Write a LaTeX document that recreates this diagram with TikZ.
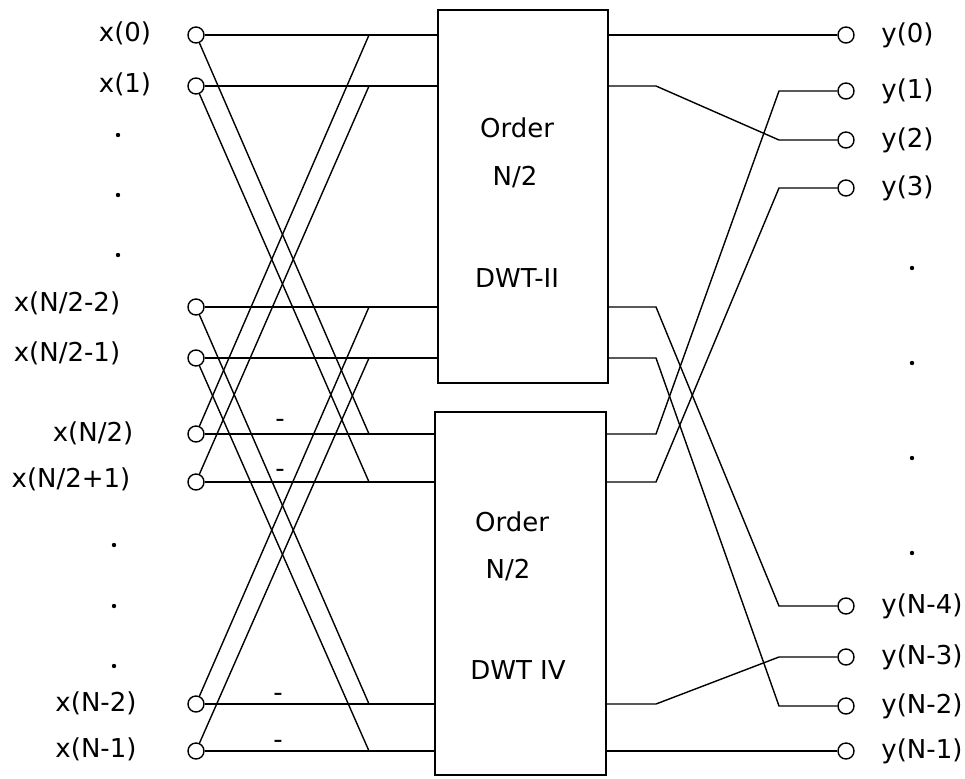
\documentclass[tikz,border=0pt]{standalone}
\usepackage{fontspec}
\setmainfont{DejaVu Sans}
\usetikzlibrary{positioning,fit,calc}

\begin{document}
\begin{tikzpicture}[
  x=0.5pt, y=-0.5pt,
  font=\fontsize{13}{15}\selectfont,
  line width=0.7pt,
  port/.style={draw, circle, fill=white, inner sep=0pt, minimum size=8pt},
  block/.style={draw, inner sep=0pt},
  lbl/.style={inner sep=0pt},
  dotm/.style={fill, circle, inner sep=0pt, minimum size=2.2pt}
]
  \useasboundingbox (0,0) rectangle (965,778);

  % Two half-size blocks
  \node[block, fit={(438,10) (608,383)}] (b1) {};
  \node[block, fit={(435,412) (606,775)}] (b2) {};
  \node[lbl] (b1-a) at (517,128) {Order};
  \node[lbl] (b1-b) at (515,177) {N/2};
  \node[lbl] (b1-c) at (517,278) {DWT-II};
  \node[lbl] (b2-a) at (512,522) {Order};
  \node[lbl] (b2-b) at (508,570) {N/2};
  \node[lbl] (b2-c) at (518,670) {DWT IV};

  % Inputs
  \node[port] (x0) at (196,35) {};
  \node[port] (x1) at (196,86) {};
  \node[port] (x2) at (196,307) {};
  \node[port] (x3) at (196,358) {};
  \node[port] (x4) at (196,434) {};
  \node[port] (x5) at (196,482) {};
  \node[port] (x6) at (196,704) {};
  \node[port] (x7) at (196,751) {};
  \node[lbl] (lx0) at (125,33) {x(0)};
  \node[lbl] (lx1) at (125,84) {x(1)};
  \node[lbl] (lx2) at (67,303) {x(N/2-2)};
  \node[lbl] (lx3) at (67,353) {x(N/2-1)};
  \node[lbl] (lx4) at (93,433) {x(N/2)};
  \node[lbl] (lx5) at (71,479) {x(N/2+1)};
  \node[lbl] (lx6) at (96,703) {x(N-2)};
  \node[lbl] (lx7) at (96,749) {x(N-1)};

  % Outputs
  \node[port] (y0) at (846,35) {};
  \node[port] (y1) at (846,91) {};
  \node[port] (y2) at (846,140) {};
  \node[port] (y3) at (846,188) {};
  \node[port] (y4) at (846,606) {};
  \node[port] (y5) at (846,657) {};
  \node[port] (y6) at (846,706) {};
  \node[port] (y7) at (846,751) {};
  \node[lbl, right=13pt of y0] (ly0) {y(0)};
  \node[lbl, right=13pt of y1] (ly1) {y(1)};
  \node[lbl, right=13pt of y2] (ly2) {y(2)};
  \node[lbl, right=13pt of y3] (ly3) {y(3)};
  \node[lbl, right=13pt of y4] (ly4) {y(N-4)};
  \node[lbl, right=13pt of y5] (ly5) {y(N-3)};
  \node[lbl, right=13pt of y6] (ly6) {y(N-2)};
  \node[lbl, right=13pt of y7] (ly7) {y(N-1)};

  % Ellipsis dots
  \foreach \y in {135,195,255} \node[dotm] (dl\y) at (118,\y) {};
  \foreach \y in {545,606,666} \node[dotm] (dm\y) at (114,\y) {};
  \foreach \y in {268,363,458,553} \node[dotm] (dr\y) at (912,\y) {};

  % Where the wires bend
  \coordinate (jl) at (369,0);
  \coordinate (jm) at (656,0);
  \coordinate (jr) at (779,0);

  % Straight inputs
  \foreach \i in {0,...,3} \draw (x\i) -- (x\i -| b1.west);
  \foreach \i in {4,...,7} \draw (x\i) -- (x\i -| b2.west);

  % Butterflies
  \draw (x0) -- (x4 -| jl);
  \draw (x1) -- (x5 -| jl);
  \draw (x2) -- (x6 -| jl);
  \draw (x3) -- (x7 -| jl);
  \draw (x4) -- (x0 -| jl);
  \draw (x5) -- (x1 -| jl);
  \draw (x6) -- (x2 -| jl);
  \draw (x7) -- (x3 -| jl);

  % Sign flips
  \node[lbl] (m4) at (280,423) {-};
  \node[lbl] (m5) at (280,473) {-};
  \node[lbl] (m6) at (278,697) {-};
  \node[lbl] (m7) at (278,744) {-};

  % Reordering of the outputs
  \draw (x0 -| b1.east) -- (y0);
  \draw (x1 -| b1.east) -- (x1 -| jm) -- (y2 -| jr) -- (y2);
  \draw (x2 -| b1.east) -- (x2 -| jm) -- (y4 -| jr) -- (y4);
  \draw (x3 -| b1.east) -- (x3 -| jm) -- (y6 -| jr) -- (y6);
  \draw (x4 -| b2.east) -- (x4 -| jm) -- (y1 -| jr) -- (y1);
  \draw (x5 -| b2.east) -- (x5 -| jm) -- (y3 -| jr) -- (y3);
  \draw (x6 -| b2.east) -- (x6 -| jm) -- (y5 -| jr) -- (y5);
  \draw (x7 -| b2.east) -- (y7);
\end{tikzpicture}
\end{document}
